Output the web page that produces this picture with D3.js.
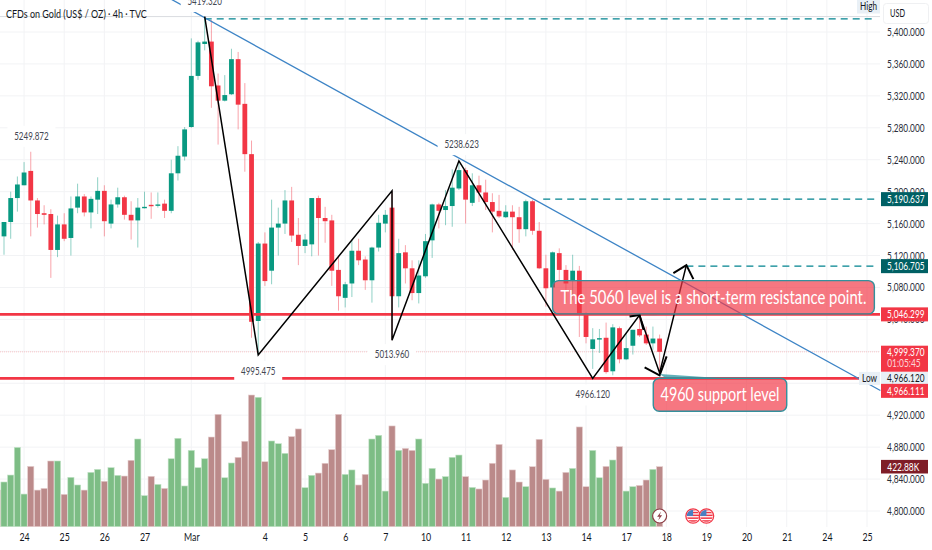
<!DOCTYPE html>
<html>
<head>
<meta charset="utf-8">
<script src="https://cdn.jsdelivr.net/npm/d3@7"></script>
<style>
  html, body { margin: 0; padding: 0; background: #fff; }
  svg { display: block; font-family: Lato, sans-serif; }
</style>
</head>
<body>
<svg width="932" height="550"></svg>
<script>
// candles start one bar left of the frame (index -1)
const opens = [
  5150,5144,5162,5192,5208,5226,5189,5173,5172,5127,
  5159,5142,5180,5194,5174,5190,5201,5160,5184,5193,
  5171,5164,5179.5,5183.5,5182.5,5185,5176,5223,5244,5281,
  5345,5385,5388,5333,5314,5322,5366,5310,5247,5038,
  5135,5101,5155,5160,5189,5146,5132,5134,5192,5167,
  5164,5102,5067,5085,5126,5115,5089,5130,5160,5180,
  5069,5124,5104,5073,5094,5139,5184,5177,5182,5204,
  5227,5186,5208,5199,5187,5176,5168,5175,5168,5153,
  5188,5151,5104,5080,5123,5102,5088,5101,5046,5003,
  5015,5017,4975,5029,4990,5007,5028,5021,5010,5016
];
const highs = [
  5160,5162,5200,5219,5237,5250,5192,5183,5178,5170,
  5173,5194,5210,5197,5194,5218,5208,5190,5205,5195,
  5188,5192,5200,5199,5199,5190,5240,5257,5281,5392,
  5389,5419.3,5415,5348,5346,5379,5375,5336,5264,5137,
  5149,5190,5180,5202,5206,5167,5147,5192,5195,5181,
  5171,5119,5087,5140,5141,5119,5131,5171,5177,5201,
  5141,5133,5114,5114,5147,5185,5186,5202,5228,5238.6,
  5230,5223,5220,5215,5198,5196,5183,5183,5181,5190,
  5190,5162,5121,5125,5129,5108,5121,5107,5049,5029,
  5028,5036,5034,5031,5023,5027,5043,5031,5031,5021
];
const lows = [
  5130,5121,5141,5175,5208,5144,5155,5159,5092,5118,
  5138,5120,5173,5169,5154,5172,5144,5154,5180,5165,
  5140,5130,5179,5166,5180,5167,5173,5214,5239,5280,
  5340,5377,5305,5259,5313,5321,5278,5225,5017,4995.5,
  5082,5084,5120,5147,5137,5108,5123,5119,5120,5136,
  5082,5051,5055,5068,5108,5077,5061,5125,5149,5014,
  5055,5085,5064,5060,5092,5117,5154,5158,5156,5202,
  5160,5182,5187,5177,5149,5167,5167,5127,5136,5144,
  5146,5103,5056,5079,5089,5061,5064,5018,5010,4978,
  4998,4972,4970,4985,4989,4996,5018,5008,5002,4977
];
const closes = [
  5144,5162,5192,5209,5224,5189,5172,5171,5127,5159,
  5141,5179,5194,5174,5191,5201,5163,5184,5193,5171,
  5164,5180,5181,5182,5184,5176,5223,5245,5278,5345,
  5387,5388,5332,5314,5321,5366,5309,5247,5037,5135,
  5088,5155,5160,5189,5145,5132,5140,5192,5167,5163,
  5101,5069,5084,5126,5114,5089,5130,5161,5171,5069,
  5123,5104,5073,5095,5138,5184,5176,5182,5205,5227,
  5190,5208,5199,5187,5175,5169,5175,5168,5153,5188,
  5151,5104,5079,5124,5102,5085,5101,5046,5018,5015,
  5016.5,4974,5030,4990,5004,5027,5020,5010,5016,4999.4
];
const volumes = [
  258,315,364,559,230,425,258,270,463,463,
  228,348,294,258,383,404,320,416,362,357,
  468,618,219,355,298,270,479,623,287,538,
  416,479,632,792,345,449,489,602,928,912,
  458,604,585,517,635,689,275,362,378,447,
  543,792,369,400,294,369,618,644,251,710,
  538,552,538,618,306,411,336,353,489,505,
  353,277,266,329,447,580,207,400,315,282,
  423,616,334,273,251,383,411,703,282,538,
  345,425,470,564,251,282,291,329,404,423
];

const priceTicks = [5400,5360,5320,5280,5240,5200,5160,5120,5080,5040,5000,4960,4920,4880,4840,4800];
const dayTicks = [3,9,15,21,28,39,45,51,57,63,69,75,81,87,93,99,105,111,117,123,129];
const dayLabels = ["24","25","26","27","Mar","4","5","6","7","10","11","12","13","14","17","18","19","20","21","24","25"];

// drawings, as [bar index, price]
const zigzag = [[30,5419.3],[38,4995.5],[58,5201],[58,5014],[68,5238.6],[88,4966.1],[95,5045.5],[98,4973],[102,5108]];
const trendline = [[25,5441],[131,4951]];
const supportLevels = [5046.3, 4966.1];
const dashedLevels = [[30,5416.5],[80.6,5190.6],[102,5106.7]];
const pointLabels = [
  ["5419.320",30,5438.8],["5249.872",4.1,5270],["5238.623",68.4,5259.5],
  ["4995.475",38,4975.5],["5013.960",58,4996.5],["4966.120",88,4946]
];

const width = 932, height = 550, plotRight = 880;
const red = "#f23645", green = "#089981", teal = "#006064";

const svg = d3.select("svg");
const x = d3.scaleLinear().domain([0, 130]).range([4, 4 + 6.69 * 130]);
const y = d3.scaleLinear().domain([5400, 4800]).range([32, 511]);
const yVol = d3.scaleLinear().domain([0, 1000]).range([526.7, 384.8]);
const line = d3.line().x(d => x(d[0])).y(d => y(d[1]));

const bars = d3.range(100).map(i => ({
  i: i - 1, open: opens[i], high: highs[i], low: lows[i], close: closes[i], vol: volumes[i]
}));

// squeeze text to a fixed width, the source font is much narrower than anything installed
function fit(sel, w) {
  sel.each(function () {
    const k = w / this.getComputedTextLength();
    const ax = +this.getAttribute("x") || 0;
    d3.select(this).attr("transform", `translate(${ax},0) scale(${k},1) translate(${-ax},0)`);
  });
}

// grid
svg.append("g").selectAll("line").data(priceTicks).join("line")
  .attr("x1", 0).attr("x2", plotRight).attr("y1", d => y(d)).attr("y2", d => y(d))
  .attr("stroke", "#f2f3f5");
svg.append("g").selectAll("line").data(dayTicks).join("line")
  .attr("x1", d => x(d)).attr("x2", d => x(d)).attr("y1", 0).attr("y2", 527)
  .attr("stroke", "#f2f3f5");

// high line and current price line
svg.append("line").attr("x1", 0).attr("x2", plotRight).attr("y1", y(5419.3)).attr("y2", y(5419.3))
  .attr("stroke", "#dadce0");
svg.append("line").attr("x1", 0).attr("x2", plotRight).attr("y1", y(4999.37)).attr("y2", y(4999.37))
  .attr("stroke", "#f9c4c8").attr("stroke-dasharray", "1,1");

// volume
svg.append("g").selectAll("rect").data(bars).join("rect")
  .attr("x", d => x(d.i) - 3.1).attr("width", 6.2)
  .attr("y", d => yVol(d.vol)).attr("height", d => yVol(0) - yVol(d.vol))
  .attr("fill", d => d.close >= d.open ? "#7dbd85" : "#bb8a8a")
  .attr("stroke", d => d.close >= d.open ? "#c4e3c8" : "#e6cfcf").attr("stroke-width", 0.6);

// candles
const candles = svg.append("g");
candles.selectAll("line").data(bars).join("line")
  .attr("x1", d => x(d.i)).attr("x2", d => x(d.i))
  .attr("y1", d => y(d.high)).attr("y2", d => y(d.low))
  .attr("stroke", d => d.close >= d.open ? green : red)
  .attr("stroke-opacity", 0.45);
candles.selectAll("rect").data(bars).join("rect")
  .attr("x", d => x(d.i) - 2.4).attr("width", 4.8)
  .attr("y", d => y(Math.max(d.open, d.close)))
  .attr("height", d => Math.max(1.4, Math.abs(y(d.open) - y(d.close))))
  .attr("fill", d => d.close >= d.open ? green : red);

// horizontal levels
svg.append("g").selectAll("line").data(supportLevels).join("line")
  .attr("x1", 0).attr("x2", (d, i) => i ? 860 : plotRight)
  .attr("y1", d => y(d)).attr("y2", d => y(d))
  .attr("stroke", red).attr("stroke-width", 2.6);
svg.append("g").selectAll("line").data(dashedLevels).join("line")
  .attr("x1", d => x(d[0])).attr("x2", plotRight - 4)
  .attr("y1", d => y(d[1])).attr("y2", d => y(d[1]))
  .attr("stroke", "#00838f").attr("stroke-width", 1.1).attr("stroke-dasharray", "7,5");

// trendline
svg.append("path").attr("d", line(trendline)).attr("fill", "none")
  .attr("stroke", "#3d84c6").attr("stroke-width", 1.3);

// zigzag with its arrows
svg.append("path").attr("d", line(zigzag)).attr("fill", "none")
  .attr("stroke", "#000").attr("stroke-width", 1.5).attr("stroke-linejoin", "miter");
const arrowTips = [[95,5045.5,[[-10,1.5],[4,15]]],[98,4970,[[-15,-8],[7,-19]]],[102,5108,[[-13,8],[7,14]]]];
svg.append("g").selectAll("path").data(arrowTips).join("path")
  .attr("d", d => {
    const tx = x(d[0]), ty = y(d[1]);
    return `M${tx + d[2][0][0]},${ty + d[2][0][1]}L${tx},${ty}L${tx + d[2][1][0]},${ty + d[2][1][1]}`;
  })
  .attr("fill", "none").attr("stroke", "#000").attr("stroke-width", 2);

// point labels, white plate hides the lines running under them
const labels = svg.append("g");
labels.selectAll("rect").data(pointLabels).join("rect")
  .attr("x", d => x(d[1]) - 24).attr("width", 48)
  .attr("y", d => y(d[2]) - 10).attr("height", 21)
  .attr("fill", "#fff");
labels.selectAll("text").data(pointLabels).join("text")
  .attr("x", d => x(d[1])).attr("y", d => y(d[2]) + 4)
  .attr("text-anchor", "middle").attr("font-size", 10.5).attr("fill", "#434651")
  .text(d => d[0])
  .call(fit, 34.5);

// callouts
const callouts = [
  { text: "The 5060 level is a short-term resistance point.", left: 82, right: 130.1, top: 5088.6, bottom: 5046.9, size: 20, textW: 306, tail: [[95,5045],[108,5047.5],[103,5047.5]] },
  { text: "4960 support level", left: 97.05, right: 117, top: 4966.3, bottom: 4925, size: 20, textW: 119, tail: [[98,4971.5],[108,4966],[99,4966]] }
];
const boxes = svg.append("g");
boxes.selectAll("path").data(callouts).join("path")
  .attr("d", d => line(d.tail) + "Z")
  .attr("fill", "#2e97a3").attr("fill-opacity", 0.75);
boxes.selectAll("rect").data(callouts).join("rect")
  .attr("x", d => x(d.left)).attr("y", d => y(d.top))
  .attr("width", d => x(d.right) - x(d.left)).attr("height", d => y(d.bottom) - y(d.top))
  .attr("rx", 6).attr("fill", red).attr("fill-opacity", 0.68)
  .attr("stroke", "#34909c").attr("stroke-width", 1.4);
boxes.selectAll("text").data(callouts).join("text")
  .attr("x", d => (x(d.left) + x(d.right)) / 2).attr("y", d => (y(d.top) + y(d.bottom)) / 2 + 6.5)
  .attr("text-anchor", "middle").attr("font-size", d => d.size).attr("fill", "#fff")
  .text(d => d.text)
  .each(function (d) { d3.select(this).call(fit, d.textW); });

// title
svg.append("text").attr("x", 6).attr("y", 18).attr("font-size", 12).attr("fill", "#131722")
  .text("CFDs on Gold (US$ / OZ) · 4h · TVC").call(fit, 141);

// price axis, labels end anchored so they stay inside the frame
const yAxis = svg.append("g").attr("transform", "translate(924.5,0)")
  .call(d3.axisLeft(y).tickValues(priceTicks).tickFormat(d3.format(",.3f")).tickSize(0).tickPadding(0));
yAxis.select(".domain").remove();
yAxis.selectAll("text").attr("font-size", 11).attr("font-family", "Lato, sans-serif")
  .attr("fill", "#2a2e39").call(fit, 37.5);

// time axis
const xAxis = svg.append("g").attr("transform", "translate(0,530)")
  .call(d3.axisBottom(x).tickValues(dayTicks).tickFormat((d, i) => dayLabels[i]).tickSize(0).tickPadding(3));
xAxis.select(".domain").remove();
xAxis.selectAll("text").attr("font-size", 11).attr("font-family", "Lato, sans-serif").attr("fill", "#131722")
  .each(function () { d3.select(this).call(fit, this.getComputedTextLength() * 0.8); });

// price tags
const priceTags = [
  { text: "5,190.637", price: 5190.637, fill: teal, color: "#fff", h: 14 },
  { text: "5,106.705", price: 5106.705, fill: teal, color: "#fff", h: 14 },
  { text: "5,046.299", price: 5046.299, fill: red, color: "#fff", h: 14 },
  { text: "4,966.120", price: 4966.12, fill: "#e9f0f6", color: "#131722", h: 13 },
  { text: "4,966.111", price: 4950.5, fill: red, color: "#fff", h: 14 }
];
const tags = svg.append("g");
tags.selectAll("rect").data(priceTags).join("rect")
  .attr("x", 881).attr("width", 47).attr("y", d => y(d.price) - d.h / 2).attr("height", d => d.h)
  .attr("fill", d => d.fill);
tags.selectAll("text").data(priceTags).join("text")
  .attr("x", 924.5).attr("y", d => y(d.price) + 4).attr("text-anchor", "end")
  .attr("font-size", 11).attr("fill", d => d.color)
  .text(d => d.text).call(fit, 37.5);

// current price tag with countdown
svg.append("rect").attr("x", 881).attr("y", 345.7).attr("width", 47).attr("height", 26).attr("fill", red);
svg.append("text").attr("x", 924.5).attr("y", 356).attr("text-anchor", "end").attr("font-size", 11).attr("fill", "#fff").text("4,999.370").call(fit, 37.5);
svg.append("text").attr("x", 920.7).attr("y", 367.5).attr("text-anchor", "end").attr("font-size", 11).attr("fill", "#fbd5d8").text("01:05:45").call(fit, 33.5);

// volume tag
svg.append("rect").attr("x", 881).attr("y", yVol(422.88) - 6.8).attr("width", 47).attr("height", 13.6).attr("fill", "#7f1d27");
svg.append("text").attr("x", 919.3).attr("y", yVol(422.88) + 4).attr("text-anchor", "end").attr("font-size", 11).attr("fill", "#fff").text("422.88K").call(fit, 32);

// high, low and currency
svg.append("rect").attr("x", 857).attr("y", 0).attr("width", 23).attr("height", 13.5).attr("fill", "#e9f0f6");
svg.append("text").attr("x", 868.5).attr("y", 10).attr("text-anchor", "middle").attr("font-size", 11).attr("fill", "#131722").text("High").call(fit, 17);
svg.append("rect").attr("x", 859).attr("y", y(4966.12) - 6.5).attr("width", 21).attr("height", 13).attr("fill", "#e9f0f6");
svg.append("text").attr("x", 869.5).attr("y", y(4966.12) + 4).attr("text-anchor", "middle").attr("font-size", 11).attr("fill", "#131722").text("Low").call(fit, 15);
svg.append("rect").attr("x", 883.5).attr("y", 3.5).attr("width", 45).attr("height", 20).attr("rx", 3)
  .attr("fill", "#fff").attr("stroke", "#eff0f2");
svg.append("text").attr("x", 890).attr("y", 17.5).attr("font-size", 11).attr("fill", "#131722").text("USD").call(fit, 15);

// event icons on the time scale
const iconY = 516;
const flagBars = [103, 105];
const defs = svg.append("defs");
flagBars.forEach((b, i) => {
  defs.append("clipPath").attr("id", "flag" + i)
    .append("circle").attr("cx", x(b)).attr("cy", iconY).attr("r", 6.2);
  const g = svg.append("g");
  g.append("circle").attr("cx", x(b)).attr("cy", iconY).attr("r", 7.2).attr("fill", "#fff").attr("stroke", red).attr("stroke-width", 1.3);
  const flag = g.append("g").attr("clip-path", `url(#flag${i})`);
  d3.range(5).forEach(s => {
    flag.append("rect").attr("x", x(b) - 7).attr("y", iconY - 7 + s * 2.8).attr("width", 14).attr("height", 1.5).attr("fill", red);
  });
  flag.append("rect").attr("x", x(b) - 7).attr("y", iconY - 7).attr("width", 7).attr("height", 7).attr("fill", "#4a7fc1");
});
svg.append("circle").attr("cx", x(98)).attr("cy", iconY).attr("r", 7).attr("fill", "#fff").attr("stroke", "#8c3d45").attr("stroke-width", 1.2);
svg.append("path").attr("d", `M${x(98) + 1.5},${iconY - 4.5}L${x(98) - 2.5},${iconY + 0.8}H${x(98)}L${x(98) - 1.5},${iconY + 4.5}L${x(98) + 2.5},${iconY - 0.8}H${x(98)}Z`)
  .attr("fill", "#8c3d45");
</script>
</body>
</html>
